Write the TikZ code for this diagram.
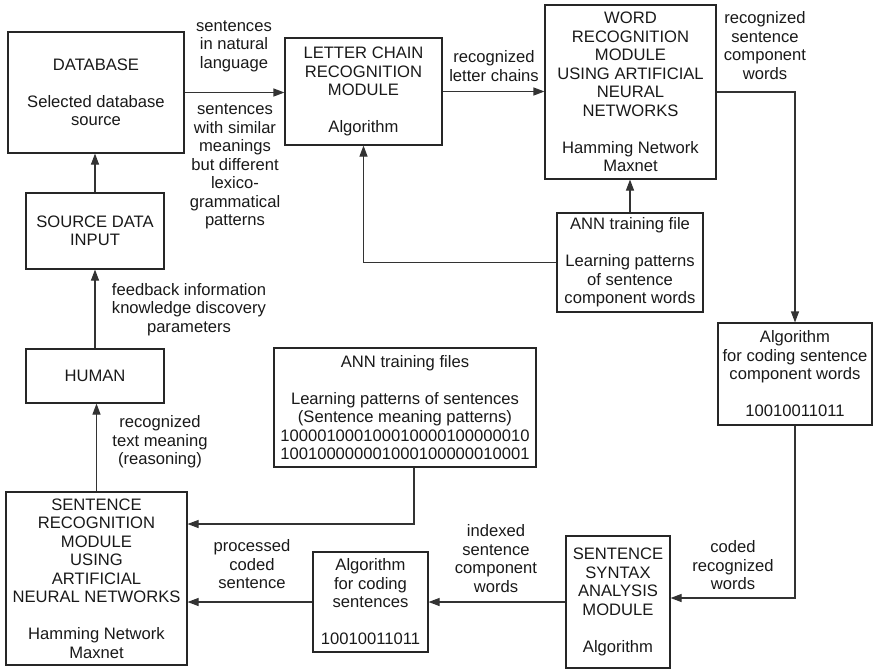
\documentclass[tikz,border=0pt]{standalone}
\usepackage{fontspec}
\setmainfont{Liberation Sans}
\usetikzlibrary{arrows.meta}
\begin{document}
\begin{tikzpicture}[x=1pt,y=-1pt,
  every node/.style={font=\fontsize{16.6pt}{18.5pt}\selectfont, text=black!90},
  box/.style={draw=black!85, line width=1.1pt, align=center, inner sep=0pt},
  lbl/.style={align=center, inner sep=0pt},
  flow/.style={draw=black!80, line width=1.1pt, -{Triangle[length=11pt,width=8pt]}}]
\useasboundingbox (0,0) rectangle (873,670);

% modules and data boxes
\node[box, minimum width=176pt, minimum height=121pt] (db) at (96,92.5)
  {DATABASE\\[18.5pt]Selected database\\source};
\node[box, minimum width=157pt, minimum height=107pt] (lcr) at (363.5,91.5)
  {LETTER CHAIN\\RECOGNITION\\MODULE\\[18.5pt]Algorithm};
\node[box, minimum width=171pt, minimum height=174pt] (wr) at (630.5,92)
  {WORD\\RECOGNITION\\MODULE\\USING ARTIFICIAL\\NEURAL\\NETWORKS\\[18.5pt]Hamming Network\\Maxnet};
\node[box, minimum width=146pt, minimum height=99pt] (annf) at (630,262.5)
  {ANN training file\\[18.5pt]Learning patterns\\of sentence\\component words};
\node[box, minimum width=154pt, minimum height=102pt] (algcw) at (795,374)
  {Algorithm\\for coding sentence\\component words\\[18.5pt]10010011011};
\node[box, minimum width=138pt, minimum height=76pt] (sdi) at (95,231)
  {SOURCE DATA\\INPUT};
\node[box, minimum width=138pt, minimum height=54pt] (human) at (95,376)
  {HUMAN};
\node[box, minimum width=262pt, minimum height=119pt] (annfiles) at (405,407.5)
  {ANN training files\\[18.5pt]Learning patterns of sentences\\(Sentence meaning patterns)\\100001000100010000100000010\\100100000001000100000010001};
\node[box, minimum width=181pt, minimum height=173pt] (sr) at (96.5,578.5)
  {SENTENCE\\RECOGNITION\\MODULE\\USING\\ARTIFICIAL\\NEURAL NETWORKS\\[18.5pt]Hamming Network\\Maxnet};
\node[box, minimum width=115pt, minimum height=100pt] (algs) at (370.5,602)
  {Algorithm\\for coding\\sentences\\[18.5pt]10010011011};
\node[box, minimum width=104pt, minimum height=132pt] (ssa) at (618,602)
  {SENTENCE\\SYNTAX\\ANALYSIS\\MODULE\\[18.5pt]Algorithm};

% connector labels
\node[lbl] (l1) at (234,46) {sentences\\in natural\\language};
\node[lbl] (l2) at (235,166.5) {sentences\\with similar\\meanings\\but different\\lexico-\\grammatical\\patterns};
\node[lbl] (l3) at (494,66) {recognized\\letter chains};
\node[lbl] (l4) at (765,45.5) {recognized\\sentence\\component\\words};
\node[lbl] (l5) at (189,309.5) {feedback information\\knowledge discovery\\parameters};
\node[lbl] (l6) at (160,442) {recognized\\text meaning\\(reasoning)};
\node[lbl] (l7) at (252,564.5) {processed\\coded\\sentence};
\node[lbl] (l8) at (496,558.5) {indexed\\sentence\\component\\words};
\node[lbl] (l9) at (733,565.5) {coded\\recognized\\words};

% data flow
\draw[flow] (db.east) -- (db.east -| lcr.west);
\draw[flow] (lcr.east) -- (lcr.east -| wr.west);
\draw[flow] (wr.east) -| (algcw.north);
\draw[flow] (annf.north) -- (annf.north |- wr.south);
\draw[flow] (annf.west) -| (lcr.south);
\draw[flow] (sdi.north) -- (sdi.north |- db.south);
\draw[flow] (human.north) -- (human.north |- sdi.south);
\draw[flow] (sr.north) -- (sr.north |- human.south);
\draw[flow] ([xshift=9pt]annfiles.south) |- ([yshift=54.5pt]sr.east);
\draw[flow] (algs.west) -- (algs.west -| sr.east);
\draw[flow] (ssa.west) -- (ssa.west -| algs.east);
\draw[flow] (algcw.south) |- ([yshift=4pt]ssa.east);
\end{tikzpicture}
\end{document}
